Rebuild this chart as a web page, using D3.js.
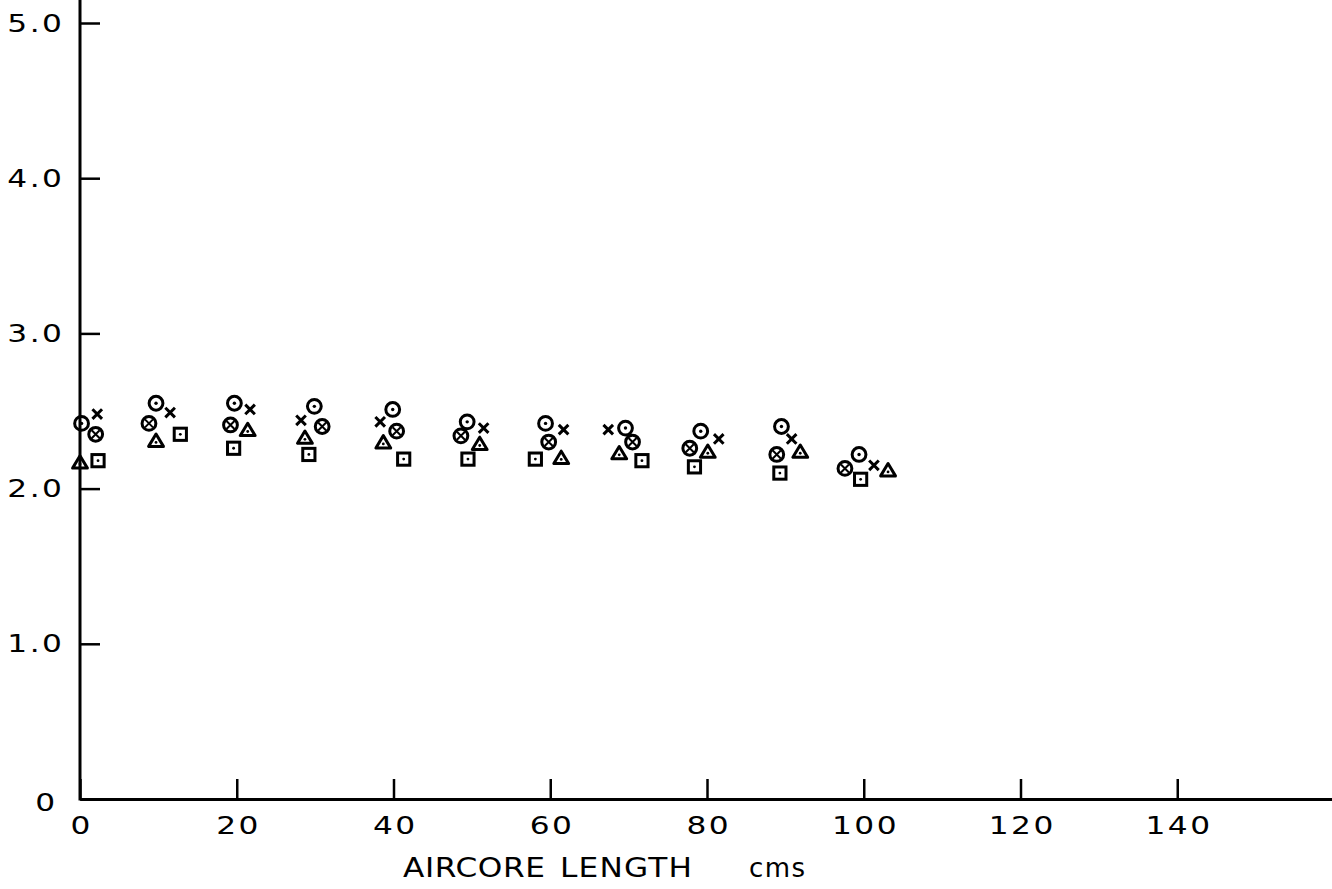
<!DOCTYPE html>
<html>
<head>
<meta charset="utf-8">
<script src="https://cdn.jsdelivr.net/npm/d3@7"></script>
<style>
  html, body { margin: 0; padding: 0; background: #fff; }
  svg { display: block; }
  .tick text { font-family: "DejaVu Sans", sans-serif; font-size: 25px; fill: #000; }
</style>
</head>
<body>
<svg id="chart" width="1332" height="889"></svg>
<script>
// Axis ticks
const xTicks = [0, 20, 40, 60, 80, 100, 120, 140];
const yTicks = [0, 1, 2, 3, 4, 5];
const yTickLabels = ["0", "1.0", "2.0", "3.0", "4.0", "5.0"];

// Measurements along the aircore (length in cms), one array pair per symbol
const dottedCircleX  = [0.2, 9.7, 19.7, 29.9, 39.9, 49.4, 59.4, 69.6, 79.2, 89.5, 99.4];
const dottedCircleY  = [2.42, 2.55, 2.55, 2.53, 2.51, 2.43, 2.42, 2.39, 2.37, 2.40, 2.22];
const crossX         = [2.2, 11.5, 21.7, 28.2, 38.3, 51.5, 61.7, 67.4, 81.5, 90.8, 101.3];
const crossY         = [2.48, 2.49, 2.51, 2.44, 2.43, 2.39, 2.38, 2.38, 2.32, 2.32, 2.15];
const crossedCircleX = [2.0, 8.8, 19.2, 30.9, 40.4, 48.6, 59.8, 70.5, 77.8, 88.9, 97.6];
const crossedCircleY = [2.35, 2.42, 2.41, 2.40, 2.37, 2.34, 2.30, 2.30, 2.26, 2.22, 2.13];
const triangleX      = [0.0, 9.7, 21.4, 28.7, 38.7, 51.0, 61.4, 68.8, 80.1, 91.9, 103.1];
const triangleY      = [2.17, 2.31, 2.38, 2.33, 2.30, 2.29, 2.20, 2.23, 2.24, 2.24, 2.12];
const squareX        = [2.3, 12.8, 19.6, 29.2, 41.3, 49.5, 58.1, 71.7, 78.4, 89.3, 99.6];
const squareY        = [2.18, 2.35, 2.26, 2.22, 2.19, 2.19, 2.19, 2.18, 2.14, 2.10, 2.06];

const svg = d3.select("#chart");
const ink = "#000";
const stretch = 1.25;   // wide stencil-style lettering
const labelSpacing = 2;

const x = d3.scaleLinear().domain([0, 160]).range([80, 1334]);
const y = d3.scaleLinear().domain([0, 5]).range([799, 23]);

// X axis: ticks point inward (upward)
const gx = svg.append("g")
  .attr("transform", `translate(0,${y(0)})`)
  .call(d3.axisBottom(x).tickValues(xTicks).tickSize(-20).tickSizeOuter(0).tickPadding(17)
    .tickFormat(d3.format("d")));
gx.select(".domain").attr("stroke", ink).attr("stroke-width", 3);
gx.selectAll(".tick line").attr("stroke", ink).attr("stroke-width", 2.5);
gx.selectAll(".tick text")
  .attr("letter-spacing", labelSpacing)
  .attr("dx", labelSpacing / 2)
  .attr("transform", `scale(${stretch},1)`);

// Y axis: ticks point inward (to the right)
const gy = svg.append("g")
  .attr("transform", `translate(${x(0)},0)`)
  .call(d3.axisLeft(y).tickValues(yTicks).tickSize(-20).tickSizeOuter(0)
    .tickFormat((d, i) => yTickLabels[i]));
gy.select(".domain").remove();
gy.selectAll(".tick line").attr("stroke", ink).attr("stroke-width", 2.5);
gy.selectAll(".tick text")
  .attr("letter-spacing", labelSpacing)
  .attr("transform", `scale(${stretch},1)`)
  .attr("x", d => (d === 0 ? -25 : -18) / stretch + labelSpacing)
  .attr("dy", d => d === 0 ? "0.45em" : "0.32em");
gy.append("line")
  .attr("x1", 0).attr("x2", 0)
  .attr("y1", 0).attr("y2", y(0) + 1.5)
  .attr("stroke", ink).attr("stroke-width", 3);

// Axis title
const title = svg.append("g")
  .attr("font-family", "DejaVu Sans, sans-serif")
  .attr("font-size", 26)
  .attr("fill", ink);
title.append("text").attr("transform", "translate(403,877) scale(1.2,1)")
  .attr("letter-spacing", 0.5).text("AIRCORE");
title.append("text").attr("transform", "translate(560,877) scale(1.2,1)")
  .attr("letter-spacing", 1).text("LENGTH");
title.append("text").attr("transform", "translate(749,877)")
  .attr("letter-spacing", 1.5).text("cms");

// Markers
const marks = svg.append("g")
  .attr("fill", "none").attr("stroke", ink).attr("stroke-width", 3);

const zip = (xs, ys) => xs.map((v, i) => ({ x: v, y: ys[i] }));

// dotted circle
const dc = marks.selectAll(".dc").data(zip(dottedCircleX, dottedCircleY)).join("g")
  .attr("transform", d => `translate(${x(d.x)},${y(d.y)})`);
dc.append("circle").attr("r", 6.9);
dc.append("circle").attr("r", 1.7).attr("fill", ink).attr("stroke", "none");

// crossed circle
const cc = marks.selectAll(".cc").data(zip(crossedCircleX, crossedCircleY)).join("g")
  .attr("transform", d => `translate(${x(d.x)},${y(d.y)})`);
cc.append("circle").attr("r", 6.9);
cc.append("path").attr("d", "M-4,-4L4,4M4,-4L-4,4")
  .attr("stroke-width", 2);

// cross
marks.selectAll(".cr").data(zip(crossX, crossY)).join("path")
  .attr("transform", d => `translate(${x(d.x)},${y(d.y)})`)
  .attr("d", "M-4.8,-4.8L4.8,4.8M4.8,-4.8L-4.8,4.8")
  .attr("stroke-width", 3);

// triangle with centre dot
const tr = marks.selectAll(".tr").data(zip(triangleX, triangleY)).join("g")
  .attr("transform", d => `translate(${x(d.x)},${y(d.y)})`);
tr.append("path").attr("d", "M-7.4,5.9L7.4,5.9L0,-6.4Z").attr("stroke-linejoin", "round");
tr.append("circle").attr("cy", 1.9).attr("r", 1.4).attr("fill", ink).attr("stroke", "none");

// square with centre dot
const sq = marks.selectAll(".sq").data(zip(squareX, squareY)).join("g")
  .attr("transform", d => `translate(${x(d.x)},${y(d.y)})`);
sq.append("rect").attr("x", -6.1).attr("y", -6.1).attr("width", 12.2).attr("height", 12.2);
sq.append("circle").attr("r", 1.4).attr("fill", ink).attr("stroke", "none");
</script>
</body>
</html>
